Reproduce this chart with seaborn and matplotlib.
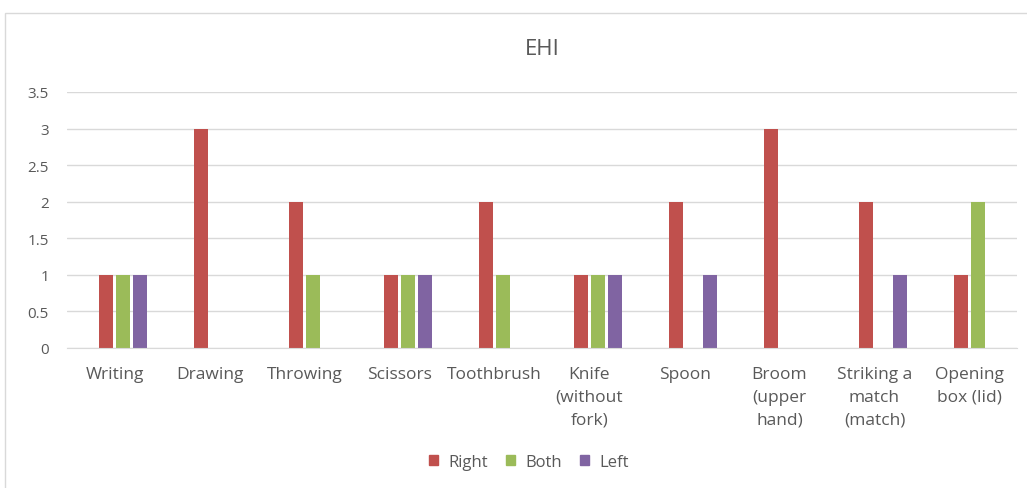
import pandas as pd
import matplotlib.pyplot as plt
import seaborn as sns
from matplotlib.patches import Rectangle

# ---- data ----
tasks = ["Writing", "Drawing", "Throwing", "Scissors", "Toothbrush",
         "Knife\n(without\nfork)", "Spoon", "Broom\n(upper\nhand)",
         "Striking a\nmatch\n(match)", "Opening\nbox (lid)"]
right = [1, 3, 2, 1, 2, 1, 2, 3, 2, 1]
both = [1, 0, 1, 1, 1, 1, 0, 0, 0, 2]
left = [1, 0, 0, 1, 0, 1, 1, 0, 1, 0]
blank = [0] * 10   # the source chart has an empty first series slot
hands = ["Right", "Both", "Left"]
colors = ["#C0504D", "#9BBB59", "#8064A2"]

df = pd.DataFrame({
    "task": tasks * 4,
    "hand": [" "] * 10 + ["Right"] * 10 + ["Both"] * 10 + ["Left"] * 10,
    "score": blank + right + both + left,
})

sns.set_style("white")
plt.rcParams["font.family"] = ["Open Sans", "DejaVu Sans"]
text_col = "#595959"

fig = plt.figure(figsize=(10.27, 4.89), dpi=100)
ax = fig.add_axes([67 / 1027, 1 - 349 / 489, 950 / 1027, 256 / 489])

sns.barplot(data=df, x="task", y="score", hue="hand",
            hue_order=[" "] + hands, palette=["white"] + colors,
            width=0.716, gap=0.18, linewidth=0, saturation=1, ax=ax)

ax.set_ylim(0, 3.5)
ax.set_yticks([0, 0.5, 1, 1.5, 2, 2.5, 3, 3.5])
ax.set_yticklabels(["0", "0.5", "1", "1.5", "2", "2.5", "3", "3.5"])
ax.yaxis.grid(True, color="#D9D9D9", linewidth=1)
ax.set_axisbelow(True)
for s in ["top", "right", "left"]:
    ax.spines[s].set_visible(False)
ax.spines["bottom"].set_color("#D9D9D9")
ax.tick_params(axis="y", length=0, colors=text_col, labelsize=11, pad=13)
ax.tick_params(axis="x", length=0, colors=text_col, labelsize=12.5, pad=13)
for lbl in ax.get_xticklabels():
    lbl.set_linespacing(1.55)
ax.set_xlabel("")
ax.set_ylabel("")

ax.set_title("EHI", fontsize=16, color=text_col, pad=27)

ax.legend_.remove()
handles = [plt.Rectangle((0, 0), 1, 1, color=c) for c in colors]
fig.legend(handles, hands, loc="center", bbox_to_anchor=(0.515, 0.053),
           ncol=3, frameon=False, fontsize=12, handlelength=0.55,
           handleheight=0.55, handletextpad=0.6, columnspacing=1.1,
           labelcolor=text_col)

# chart border
fig.patches.append(Rectangle((5 / 1027, -0.1), 1.2, 1 - 14 / 489 + 0.1,
                             transform=fig.transFigure, fill=False,
                             edgecolor="#D9D9D9", linewidth=1))

fig.savefig("out.png", dpi=100)
